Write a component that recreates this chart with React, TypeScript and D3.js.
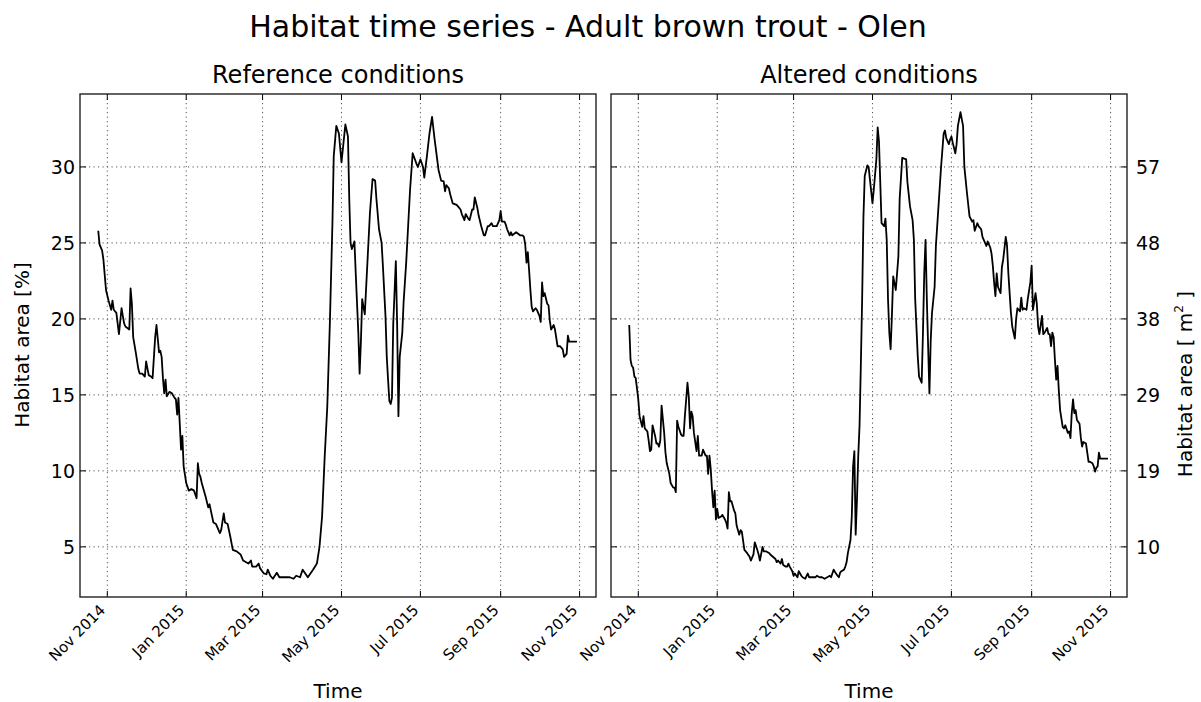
import React, { useEffect, useRef } from "react";
import * as d3 from "d3";

// day offset from 1 Nov 2014, habitat area [%]
const refSeries: [number, number][] = [
  [-7, 25.8], [-6, 24.9], [-4, 24.5], [-3, 23.9], [-1, 21.9], [1, 21.2], [3, 20.6], [4, 21.2], [5, 20.6], [7, 20.4],
  [9, 19.0], [11, 20.7], [13, 19.7], [14, 19.5], [17, 19.3], [18, 22.0], [19, 21.0], [20, 18.8], [22, 17.8], [24, 16.7],
  [25, 16.4], [27, 16.4], [29, 16.2], [30, 17.2], [32, 16.3], [34, 16.2], [35, 16.1], [37, 18.8], [38, 19.6], [40, 17.8],
  [41, 17.9], [42, 17.5], [43, 16.1], [44, 15.1], [45, 16.0], [46, 14.9], [48, 15.2], [50, 15.1], [52, 14.8], [53, 14.7],
  [54, 13.7], [55, 14.8], [56, 13.1], [57, 11.4], [58, 12.3], [59, 10.3], [61, 9.2], [63, 8.7], [65, 8.8], [67, 8.7],
  [69, 8.2], [70, 10.5], [71, 9.8], [72, 9.6], [73, 9.2], [76, 8.3], [78, 7.6], [79, 7.8], [80, 7.4], [82, 6.6],
  [84, 6.5], [87, 5.9], [88, 6.1], [90, 7.2], [91, 6.6], [93, 6.5], [95, 5.7], [97, 4.8], [100, 4.7], [103, 4.5],
  [105, 4.1], [107, 4.0], [109, 3.9], [111, 4.1], [112, 3.7], [115, 3.7], [117, 3.9], [118, 3.6], [121, 3.25], [123, 3.2],
  [124, 3.5], [126, 3.1], [128, 2.9], [131, 3.3], [133, 3.0], [137, 3.0], [141, 3.0], [144, 2.9], [146, 3.1], [149, 3.0],
  [151, 3.5], [155, 3.0], [159, 3.5], [162, 3.9], [164, 5.0], [166, 7.0], [168, 10.9], [170, 14.2], [172, 19.7], [174, 26.3],
  [175, 30.7], [177, 32.7], [179, 32.2], [181, 30.3], [184, 32.8], [186, 32.0], [187, 27.9], [188, 25.0], [189, 24.6], [191, 25.1],
  [192, 23.0], [194, 19.1], [195, 16.4], [196, 18.5], [197, 21.3], [199, 20.3], [203, 27.0], [205, 29.2], [207, 29.1], [208, 27.9],
  [210, 25.9], [212, 25.0], [213, 23.5], [215, 20.2], [216, 17.5], [217, 16.0], [218, 14.6], [219, 14.4], [220, 14.8], [221, 19.7],
  [223, 23.8], [224, 19.7], [225, 13.6], [226, 17.5], [228, 19.1], [229, 21.1], [231, 23.7], [234, 28.5], [236, 30.9], [239, 30.2],
  [240, 30.0], [242, 30.5], [244, 30.0], [245, 29.3], [247, 30.7], [249, 32.2], [251, 33.3], [253, 31.8], [256, 29.8], [258, 29.1],
  [260, 29.05], [261, 28.4], [262, 28.8], [264, 28.6], [265, 28.2], [267, 27.6], [270, 27.5], [271, 27.4], [273, 27.2], [274, 26.9],
  [276, 26.5], [277, 26.9], [279, 26.6], [280, 26.5], [282, 27.2], [283, 27.2], [284, 28.0], [286, 27.3], [287, 26.8], [289, 26.1],
  [290, 25.8], [291, 25.5], [292, 25.5], [294, 26.1], [295, 26.1], [297, 26.3], [298, 26.1], [301, 26.1], [303, 26.5], [304, 27.1],
  [305, 26.4], [307, 26.4], [308, 26.2], [309, 25.9], [311, 25.5], [312, 25.7], [313, 25.5], [316, 25.7], [319, 25.5], [321, 25.5],
  [322, 25.4], [323, 24.9], [324, 23.7], [325, 24.4], [326, 23.2], [327, 21.9], [328, 20.8], [329, 20.5], [331, 20.7], [332, 20.6],
  [334, 20.2], [335, 19.8], [336, 22.4], [337, 21.5], [338, 21.7], [340, 21.0], [341, 20.9], [342, 19.9], [343, 19.3], [345, 19.6],
  [346, 19.3], [348, 18.2], [350, 18.2], [352, 18.0], [353, 17.5], [355, 17.7], [356, 18.9], [357, 18.5], [363, 18.5],
];

const altSeries: [number, number][] = [
  [-7, 19.6], [-6, 17.3], [-5, 16.9], [-4, 16.8], [-3, 16.2], [-2, 16.1], [0, 14.7], [1, 13.6], [3, 12.9], [4, 13.6],
  [5, 12.8], [7, 12.6], [8, 12.0], [9, 11.3], [10, 11.4], [11, 13.0], [13, 12.3], [14, 11.8], [15, 11.8], [16, 11.6],
  [17, 12.0], [18, 14.3], [20, 12.5], [21, 11.2], [22, 10.5], [24, 9.8], [25, 9.2], [27, 8.9], [28, 8.9], [29, 8.6],
  [30, 13.3], [31, 12.9], [33, 12.4], [34, 12.3], [35, 12.3], [36, 13.6], [38, 15.8], [39, 14.9], [40, 12.8], [41, 13.9],
  [42, 13.6], [43, 12.5], [45, 11.3], [46, 12.3], [47, 11.0], [49, 11.0], [50, 11.4], [52, 11.0], [53, 11.0], [54, 9.8],
  [55, 11.0], [56, 10.1], [57, 8.7], [58, 7.6], [59, 8.7], [60, 6.8], [61, 7.5], [62, 6.9], [64, 7.0], [65, 7.1],
  [67, 6.8], [68, 6.6], [69, 6.2], [70, 8.6], [71, 8.0], [72, 8.0], [74, 7.4], [75, 7.2], [76, 6.4], [78, 5.8],
  [79, 6.1], [80, 6.0], [82, 4.8], [83, 4.7], [84, 4.6], [86, 4.35], [87, 4.1], [89, 4.5], [90, 5.3], [92, 4.8],
  [93, 4.5], [94, 4.1], [96, 5.0], [97, 4.7], [99, 4.7], [101, 4.6], [102, 4.5], [104, 4.35], [106, 4.2], [107, 4.0],
  [108, 4.1], [110, 3.9], [111, 4.2], [112, 3.8], [114, 3.7], [115, 3.7], [116, 3.9], [117, 3.7], [119, 3.4], [120, 3.1],
  [121, 3.25], [123, 3.0], [124, 3.4], [126, 3.1], [127, 3.0], [129, 2.9], [131, 3.25], [132, 3.0], [134, 3.0], [137, 3.0],
  [138, 3.1], [140, 3.0], [142, 3.0], [144, 2.9], [146, 3.0], [148, 3.1], [149, 3.0], [151, 3.5], [152, 3.35], [154, 3.1],
  [155, 3.0], [156, 3.3], [157, 3.4], [159, 3.5], [160, 3.7], [161, 4.0], [162, 4.6], [164, 5.45], [165, 7.0], [166, 10.3],
  [167, 11.3], [168, 5.8], [169, 8.1], [170, 11.0], [171, 13.0], [172, 17.0], [173, 21.3], [174, 26.7], [175, 29.4], [177, 30.1],
  [178, 30.0], [179, 29.2], [181, 27.6], [182, 28.5], [184, 30.5], [185, 32.6], [186, 31.7], [187, 29.0], [188, 26.3], [190, 26.1],
  [191, 26.6], [192, 25.2], [193, 21.3], [194, 19.1], [195, 18.0], [196, 20.2], [197, 22.8], [199, 21.9], [201, 24.1], [202, 27.9],
  [204, 30.6], [207, 30.5], [208, 29.0], [210, 27.4], [212, 26.5], [213, 25.2], [214, 21.3], [216, 17.5], [217, 16.2], [219, 15.8],
  [220, 19.1], [221, 23.0], [222, 25.2], [223, 21.3], [225, 15.1], [226, 18.6], [227, 20.4], [229, 22.1], [230, 24.8], [232, 27.4],
  [234, 30.0], [236, 32.2], [237, 32.4], [238, 31.9], [240, 31.5], [241, 31.8], [242, 32.0], [243, 31.6], [245, 30.9], [246, 31.5],
  [247, 32.7], [249, 33.6], [251, 32.7], [252, 30.0], [254, 28.3], [256, 26.75], [258, 26.4], [259, 26.5], [260, 25.8], [262, 26.3],
  [263, 26.1], [265, 25.9], [266, 25.4], [268, 25.0], [269, 24.8], [270, 25.1], [272, 24.7], [273, 24.3], [274, 23.5], [275, 22.4],
  [276, 21.5], [277, 23.0], [278, 22.1], [280, 21.7], [281, 23.4], [282, 23.9], [284, 25.4], [285, 24.8], [286, 23.0], [288, 20.4],
  [289, 19.5], [290, 19.1], [291, 18.7], [292, 20.0], [293, 20.7], [295, 20.5], [296, 21.4], [297, 20.6], [298, 20.7], [300, 20.6],
  [301, 21.3], [303, 22.4], [304, 23.5], [305, 20.6], [307, 21.7], [308, 21.0], [309, 19.5], [310, 19.0], [312, 20.2], [313, 19.0],
  [314, 19.1], [316, 19.4], [317, 19.0], [318, 19.0], [319, 18.2], [320, 19.1], [321, 18.8], [322, 17.3], [323, 16.0], [324, 16.9],
  [325, 15.3], [326, 14.0], [328, 12.9], [329, 12.8], [330, 13.0], [332, 12.5], [333, 12.6], [334, 12.15], [335, 13.8], [336, 14.7],
  [337, 13.8], [338, 14.0], [339, 13.35], [341, 13.1], [342, 12.2], [343, 11.6], [344, 11.9], [346, 11.8], [347, 11.2], [348, 10.6],
  [349, 10.6], [351, 10.5], [352, 10.3], [353, 9.95], [354, 10.2], [355, 10.3], [356, 11.2], [357, 10.8], [363, 10.8],
];

const yTicks = [5, 10, 15, 20, 25, 30];
const areaTickLabels = ["10", "19", "29", "38", "48", "57"];
const monthTicks = [
  new Date(2014, 10, 1), new Date(2015, 0, 1), new Date(2015, 2, 1), new Date(2015, 4, 1),
  new Date(2015, 6, 1), new Date(2015, 8, 1), new Date(2015, 10, 1),
];
const monthTickLabels = ["Nov 2014", "Jan 2015", "Mar 2015", "May 2015", "Jul 2015", "Sep 2015", "Nov 2015"];
const panelTitles = ["Reference conditions", "Altered conditions"];

const START = new Date(2014, 10, 1);
const dayToDate = (d: number) => new Date(START.getTime() + d * 864e5);

const W = 1201;
const H = 702;
const FONT = "DejaVu Sans, sans-serif";

const App: React.FC = () => {
  const svgRef = useRef<SVGSVGElement>(null);

  useEffect(() => {
    if (!svgRef.current) return;
    const svg = d3.select(svgRef.current);
    svg.selectAll("*").remove();

    const top = 94;
    const bottom = 597;
    const pw = 516;
    const ph = bottom - top;

    const x = d3.scaleTime().domain([dayToDate(-21.1), dayToDate(377.7)]).range([0, pw]);
    const y = d3.scaleLinear().domain([1.7, 34.8]).range([ph, 0]);

    svg.append("rect").attr("width", W).attr("height", H).attr("fill", "#fff");

    svg.append("text")
      .attr("x", 588).attr("y", 37)
      .attr("text-anchor", "middle")
      .attr("font-size", 30)
      .text("Habitat time series - Adult brown trout - Olen");

    const lefts = [80, 611];
    const series = [refSeries, altSeries];

    lefts.forEach((left, i) => {
      const g = svg.append("g").attr("transform", `translate(${left},${top})`);

      // grid
      g.selectAll(".vgrid").data(monthTicks).enter().append("line")
        .attr("x1", d => x(d)).attr("x2", d => x(d))
        .attr("y1", 0).attr("y2", ph)
        .attr("stroke", "#555").attr("stroke-width", 1).attr("stroke-dasharray", "1.2,3.3");
      g.selectAll(".hgrid").data(yTicks).enter().append("line")
        .attr("x1", 0).attr("x2", pw)
        .attr("y1", d => y(d)).attr("y2", d => y(d))
        .attr("stroke", "#555").attr("stroke-width", 1).attr("stroke-dasharray", "1.2,3.3");

      const line = d3.line<[number, number]>()
        .x(d => x(dayToDate(d[0])))
        .y(d => y(d[1]));

      g.append("path")
        .datum(series[i])
        .attr("d", line)
        .attr("fill", "none")
        .attr("stroke", "#000")
        .attr("stroke-width", 1.8)
        .attr("stroke-linejoin", "round");

      // ticks, inward
      monthTicks.forEach(m => {
        g.append("line").attr("x1", x(m)).attr("x2", x(m)).attr("y1", ph).attr("y2", ph - 6).attr("stroke", "#000");
        g.append("line").attr("x1", x(m)).attr("x2", x(m)).attr("y1", 0).attr("y2", 6).attr("stroke", "#000");
      });
      yTicks.forEach(v => {
        g.append("line").attr("x1", 0).attr("x2", 6).attr("y1", y(v)).attr("y2", y(v)).attr("stroke", "#000");
        g.append("line").attr("x1", pw).attr("x2", pw - 6).attr("y1", y(v)).attr("y2", y(v)).attr("stroke", "#000");
      });

      g.append("rect")
        .attr("width", pw).attr("height", ph)
        .attr("fill", "none").attr("stroke", "#222").attr("stroke-width", 1.4);

      // y tick labels
      if (i === 0) {
        g.selectAll(".ylab").data(yTicks).enter().append("text")
          .attr("x", -5).attr("y", d => y(d)).attr("dy", "0.36em")
          .attr("text-anchor", "end").attr("font-size", 19)
          .text(d => String(d));
      } else {
        g.selectAll(".ylab").data(yTicks).enter().append("text")
          .attr("x", pw + 9).attr("y", d => y(d)).attr("dy", "0.36em")
          .attr("text-anchor", "start").attr("font-size", 19)
          .text((d, k) => areaTickLabels[k]);
      }

      // x tick labels, rotated
      monthTicks.forEach((m, k) => {
        const tx = x(m) - 1;
        const ty = ph + 14;
        g.append("text")
          .attr("transform", `translate(${tx},${ty}) rotate(-45)`)
          .attr("text-anchor", "end")
          .attr("font-size", 15)
          .text(monthTickLabels[k]);
      });

      g.append("text")
        .attr("x", pw / 2).attr("y", -11)
        .attr("text-anchor", "middle").attr("font-size", 24)
        .text(panelTitles[i]);

      g.append("text")
        .attr("x", pw / 2).attr("y", ph + 101)
        .attr("text-anchor", "middle").attr("font-size", 20)
        .text("Time");
    });

    svg.append("text")
      .attr("transform", "translate(29,345) rotate(-90)")
      .attr("text-anchor", "middle").attr("font-size", 20)
      .text("Habitat area [%]");

    const rl = svg.append("text")
      .attr("transform", "translate(1192,384) rotate(-90)")
      .attr("text-anchor", "middle").attr("font-size", 20);
    rl.append("tspan").text("Habitat area [ m");
    rl.append("tspan").attr("font-size", 12).attr("dy", -9).text("2");
    rl.append("tspan").attr("dy", 9).text(" ]");
  }, []);

  return (
    <svg
      ref={svgRef}
      width={W}
      height={H}
      style={{ position: "absolute", left: 0, top: 0, display: "block", fontFamily: FONT }}
    />
  );
};

export default App;
